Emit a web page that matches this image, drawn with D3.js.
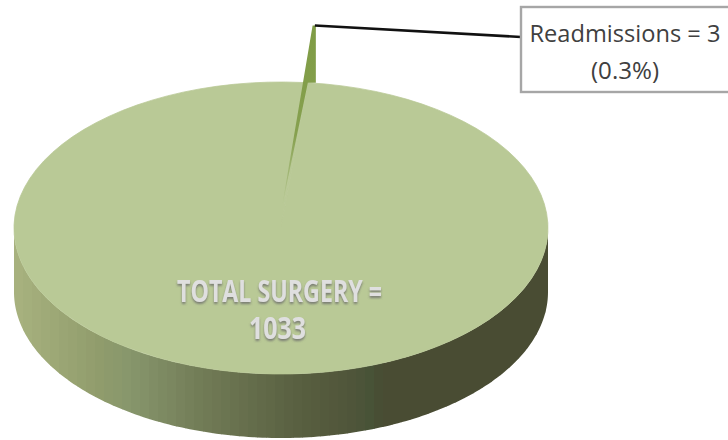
<!DOCTYPE html>
<html><head><meta charset="utf-8">
<script src="https://cdn.jsdelivr.net/npm/d3@7"></script>
<style>html,body{margin:0;background:#fff}svg{display:block;filter:blur(.45px)}
.t{font-family:"Open Sans",sans-serif}</style></head>
<body><div id="c"></div>
<script>
const categories = ["Other surgery", "Readmissions"];
const counts = [1030, 3];
const totalLabel = ["TOTAL SURGERY =", "1033"];
const calloutLabel = ["Readmissions = 3", "(0.3%)"];
const wallColorDomain = [14, 100, 130, 200, 300, 350, 372, 382, 548];
const wallColorRange = ["#a8b27f", "#909c6c", "#87966c", "#727c57", "#585f40", "#50553a", "#475337", "#494c33", "#494c33"];

const W = 728, H = 440;
const cx = 281, cy = 228, rx = 267, ry = 146, depth = 64;
const svg = d3.select("#c").append("svg").attr("width", W).attr("height", H);
const defs = svg.append("defs");

const endA = 0.1007;
const pie = d3.pie().sort(null).startAngle(endA - 2 * Math.PI).endAngle(endA);
const arcs = pie(counts);
const unit = d3.arc().innerRadius(0).outerRadius(rx);
const rimAt = a => [cx + rx * Math.sin(a), cy - ry * Math.cos(a)];

// wall shape: front half of the rim and the same rim pushed down by the depth
const front = d3.range(90, 270.5, 1).map(d => rimAt(d * Math.PI / 180));
const wallPts = front.concat(front.slice().reverse().map(p => [p[0], p[1] + depth]));
defs.append("clipPath").attr("id", "wall").append("path").attr("d", d3.line()(wallPts) + "Z");

const wallColor = d3.scaleLinear().domain(wallColorDomain).range(wallColorRange);
svg.append("g").attr("clip-path", "url(#wall)").selectAll("rect")
  .data(d3.range(cx - rx, cx + rx, 9)).join("rect")
  .attr("x", d => d).attr("y", cy - 2).attr("width", 9.5).attr("height", ry + depth + 6)
  .attr("fill", d => wallColor(d + 4.5));

// pie top
const face = svg.append("g").attr("transform", `translate(${cx},${cy}) scale(1,${ry / rx})`);
face.selectAll("path").data(arcs).join("path").attr("d", unit).attr("fill", "#b9c996").attr("stroke", "#b9c996").attr("stroke-width", 1);

// exploded readmissions slice
const slice = arcs[1];
const lift = 57, apex = [cx + 1, cy - 21];
const L = rimAt(slice.startAngle), R = rimAt(slice.endAngle);
const grad = defs.append("linearGradient").attr("id", "sl").attr("x1", 0).attr("y1", 0).attr("x2", 0).attr("y2", 1);
grad.append("stop").attr("offset", 0).attr("stop-color", "#7f9c45");
grad.append("stop").attr("offset", .6).attr("stop-color", "#86a04f");
grad.append("stop").attr("offset", 1).attr("stop-color", "#b9c996");
const tipX = L[0] + lift * (L[0] - apex[0]) / (apex[1] - L[1]);
const sideX = R[0] + 8;
svg.append("path").attr("fill", "url(#sl)")
  .attr("d", d3.line()([apex, L, [tipX, L[1] - lift], [sideX, L[1] - lift], [sideX, R[1]], R]) + "Z");

// leader and callout
const boxX = 521, boxY = 7, boxH = 85;
svg.append("path").attr("d", d3.line()([[sideX - 1, L[1] - lift], [boxX, 37]])).attr("stroke", "#111").attr("stroke-width", 2.6).attr("fill", "none");
svg.append("rect").attr("x", boxX).attr("y", boxY).attr("width", W).attr("height", boxH)
  .attr("fill", "#fff").attr("stroke", "#a6a6a6").attr("stroke-width", 2.4);
svg.append("text").attr("class", "t").attr("x", 625).attr("y", 42).attr("text-anchor", "middle")
  .attr("font-size", 23.5).attr("fill", "#404040").attr("textLength", 191).attr("lengthAdjust", "spacingAndGlyphs").text(calloutLabel[0]);
svg.append("text").attr("class", "t").attr("x", 625).attr("y", 79).attr("text-anchor", "middle")
  .attr("font-size", 23.5).attr("fill", "#404040").attr("textLength", 68).attr("lengthAdjust", "spacingAndGlyphs").text(calloutLabel[1]);

// centre label
defs.append("filter").attr("id", "sh").attr("x", "-10%").attr("y", "-30%").attr("width", "120%").attr("height", "170%")
  .append("feDropShadow").attr("dx", 0).attr("dy", 2).attr("stdDeviation", 1.2).attr("flood-color", "#6b6b6b").attr("flood-opacity", .8);
svg.append("text").attr("class", "t").attr("x", 279.5).attr("y", 302).attr("text-anchor", "middle")
  .attr("font-size", 30).attr("font-weight", 700).attr("fill", "#dfdfdf").attr("filter", "url(#sh)")
  .attr("textLength", 205).attr("lengthAdjust", "spacingAndGlyphs").text(totalLabel[0]);
svg.append("text").attr("class", "t").attr("x", 277.5).attr("y", 339).attr("text-anchor", "middle")
  .attr("font-size", 30).attr("font-weight", 700).attr("fill", "#dfdfdf").attr("filter", "url(#sh)")
  .attr("textLength", 57).attr("lengthAdjust", "spacingAndGlyphs").text(totalLabel[1]);
</script></body></html>
